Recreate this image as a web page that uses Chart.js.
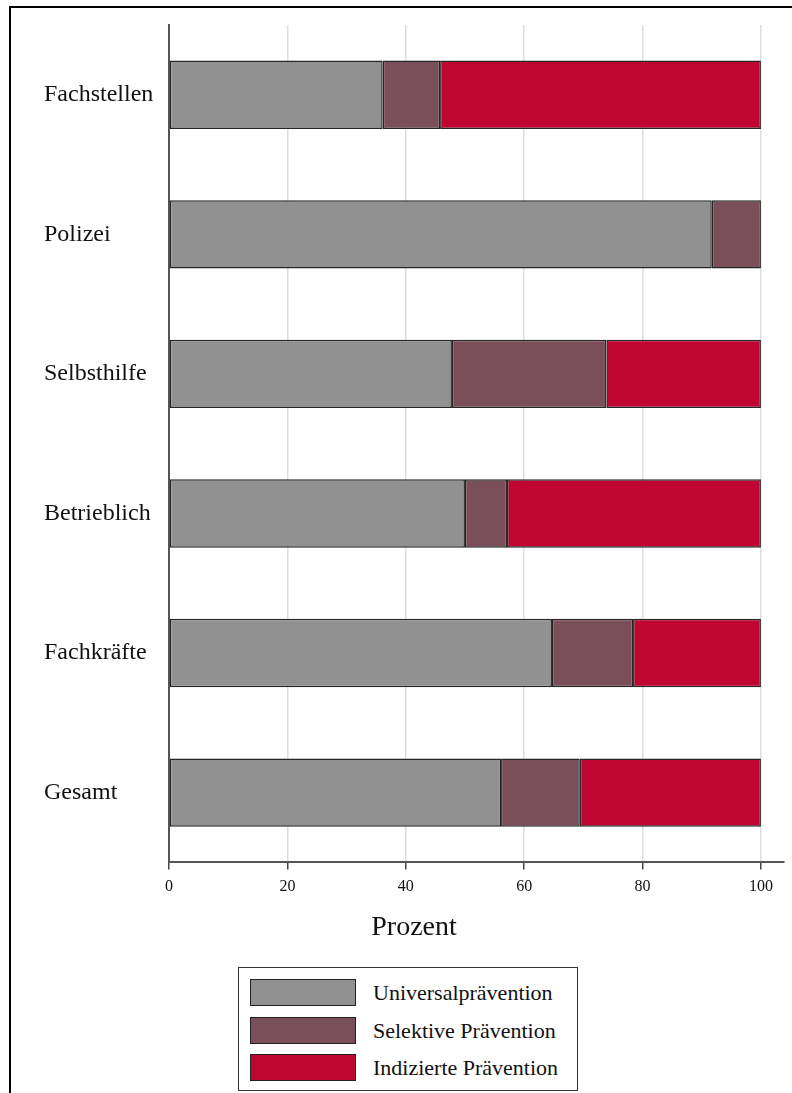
<!DOCTYPE html>
<html>
<head>
<meta charset="utf-8">
<script src="https://cdn.jsdelivr.net/npm/chart.js@4"></script>
<style>
  html, body { margin: 0; padding: 0; background: #fff; }
  body { width: 792px; height: 1093px; position: relative; overflow: hidden; font-family: "Liberation Serif", "DejaVu Serif", serif; }
  #frame { position: absolute; left: 9px; top: 6px; width: 900px; height: 1200px; border-top: 2px solid #000; border-left: 2px solid #000; }
  #wrap { position: absolute; left: 0; top: 0; width: 792px; height: 960px; }
  #legend { position: absolute; left: 238px; top: 967px; width: 338px; height: 122px; border: 1.5px solid #333; background: #fff; }
  .item { position: absolute; left: 11px; height: 27px; display: flex; align-items: center; }
  .sw { width: 104px; height: 25px; border: 1.5px solid #222; box-sizing: content-box; }
  .lab { margin-left: 17px; font-size: 22px; color: #111; white-space: nowrap; }
</style>
</head>
<body>
<div id="frame"></div>
<div id="wrap"><canvas id="c" width="792" height="960"></canvas></div>
<div id="legend"></div>
<script>
const categories = ["Fachstellen", "Polizei", "Selbsthilfe", "Betrieblich", "Fachkräfte", "Gesamt"];
const seriesNames = ["Universalprävention", "Selektive Prävention", "Indizierte Prävention"];
const universal = [36.1, 91.7, 47.8, 50.0, 64.7, 56.1];
const selective = [9.7, 8.3, 26.1, 7.1, 13.7, 13.3];
const indicated = [54.2, 0, 26.1, 42.9, 21.6, 30.6];
const xTicks = [0, 20, 40, 60, 80, 100];
const colors = ["#919191", "#7b4f59", "#c00533"];
const axisTitle = "Prozent";

const serif = "'Liberation Serif', 'DejaVu Serif', serif";
const values = [universal, selective, indicated];

const datasets = seriesNames.map((name, i) => ({
  label: name,
  data: values[i],
  backgroundColor: colors[i],
  borderColor: "#262626",
  borderWidth: 1.5,
  borderSkipped: false,
  categoryPercentage: 1.0,
  barPercentage: 0.49
}));

new Chart(document.getElementById("c"), {
  type: "bar",
  data: { labels: categories, datasets },
  options: {
    indexAxis: "y",
    responsive: false,
    animation: false,
    layout: { padding: { left: 44, right: 8, top: 25, bottom: 0 } },
    plugins: {
      legend: { display: false },
      tooltip: { enabled: false },
      title: {
        display: true,
        position: "bottom",
        text: axisTitle,
        color: "#111",
        font: { family: serif, size: 28, weight: "normal", lineHeight: 1.2 },
        padding: { top: 3, bottom: 16 }
      }
    },
    scales: {
      x: {
        stacked: true,
        min: 0,
        max: 103.9,
        afterBuildTicks: (scale) => { scale.ticks = xTicks.map(v => ({ value: v })); },
        afterFit: (scale) => { scale.height = 45; },
        ticks: {
          color: "#111",
          font: { family: serif, size: 16 },
          padding: 8,
          maxRotation: 0
        },
        grid: {
          color: "#dedede",
          lineWidth: 1.5,
          drawTicks: true,
          tickLength: 7,
          tickColor: "#444",
          tickWidth: 1.5
        },
        border: { display: true, color: "#555", width: 2 }
      },
      y: {
        stacked: true,
        afterFit: (scale) => { scale.width = 125; },
        ticks: {
          color: "#111",
          crossAlign: "far",
          font: { family: serif, size: 24 }
        },
        grid: { display: false, drawTicks: false },
        border: { display: true, color: "#555", width: 2 }
      }
    }
  }
});

// HTML legend built from the series arrays
const legendEl = document.getElementById("legend");
const rowTops = [11, 49, 86];
seriesNames.forEach((name, i) => {
  const it = document.createElement("div");
  it.className = "item";
  it.style.top = rowTops[i] + "px";
  const sw = document.createElement("div");
  sw.className = "sw";
  sw.style.background = colors[i];
  const lab = document.createElement("span");
  lab.className = "lab";
  lab.textContent = name;
  it.appendChild(sw);
  it.appendChild(lab);
  legendEl.appendChild(it);
});
</script>
</body>
</html>
